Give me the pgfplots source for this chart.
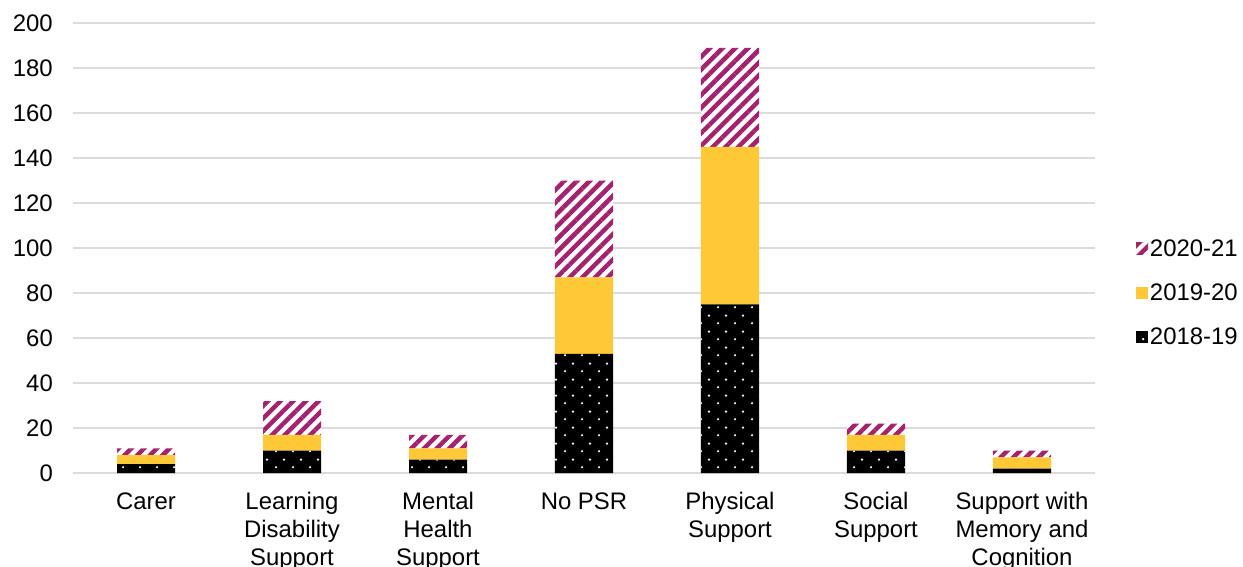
\documentclass[border=0pt]{standalone}
\usepackage{pgfplots}
\pgfplotsset{compat=1.18}
\usepackage{fontspec}
\setmainfont{Liberation Sans}
\usetikzlibrary{patterns,patterns.meta}
\definecolor{gold}{HTML}{FFC837}
\definecolor{plum}{HTML}{A3216E}
\definecolor{gridc}{HTML}{DDDADA}
\pgfdeclarepatternformonly{stagdots}{\pgfqpoint{0bp}{0bp}}{\pgfqpoint{17bp}{16bp}}{\pgfqpoint{17bp}{16bp}}{%
  \pgfpathcircle{\pgfqpoint{4.25bp}{4bp}}{1.3bp}%
  \pgfpathcircle{\pgfqpoint{12.75bp}{12bp}}{1.3bp}%
  \pgfusepath{fill}}
\begin{document}
\begin{tikzpicture}
\begin{axis}[
  at={(73bp,-473bp)}, anchor=south west,
  scale only axis, width=1022bp, height=450bp,
  ybar stacked, bar width=58bp,
  xmin=-0.5, xmax=6.5, ymin=0, ymax=200,
  ytick={0,20,...,200},
  xtick={0,...,6},
  xticklabels={Carer, Learning\\Disability\\Support, Mental\\Health\\Support, No PSR, Physical\\Support, Social\\Support, Support with\\Memory and\\Cognition},
  xticklabel style={align=center, font=\fontsize{24}{28}\selectfont, yshift=-16bp},
  yticklabel style={font=\fontsize{24}{28}\selectfont, inner sep=0pt, xshift=-20bp},
  /pgf/number format/assume math mode=true,
  axis line style={draw=none},
  major tick length=0pt,
  ymajorgrids, grid style={gridc, line width=1.6bp},
  reverse legend,
  legend style={at={(1.037,0.4)}, anchor=west, draw=none, fill=none,
    font=\fontsize{24}{28}\selectfont, row sep=22bp,
    /tikz/every even column/.style={column sep=6bp}},
  legend cell align=left,
  legend image code/.code={\fill[#1] (0bp,-6bp) rectangle (12bp,6bp);},
]
\addplot[fill=black, draw=none, postaction={pattern=stagdots, pattern color=white}]
  coordinates {(0,4) (1,10) (2,6) (3,53) (4,75) (5,10) (6,2)};
\addlegendentry{2018-19}
\addplot[fill=gold, draw=none]
  coordinates {(0,4) (1,7) (2,5) (3,34) (4,70) (5,7) (6,5)};
\addlegendentry{2019-20}
\addplot[fill=white, draw=none, postaction={pattern={Lines[angle=45, distance=9bp, line width=4.5bp]}, pattern color=plum}]
  coordinates {(0,3) (1,15) (2,6) (3,43) (4,44) (5,5) (6,3)};
\addlegendentry{2020-21}
\end{axis}
\pgfresetboundingbox
\path[use as bounding box] (0bp,0bp) rectangle (1243bp,-567bp);
\end{tikzpicture}
\end{document}
